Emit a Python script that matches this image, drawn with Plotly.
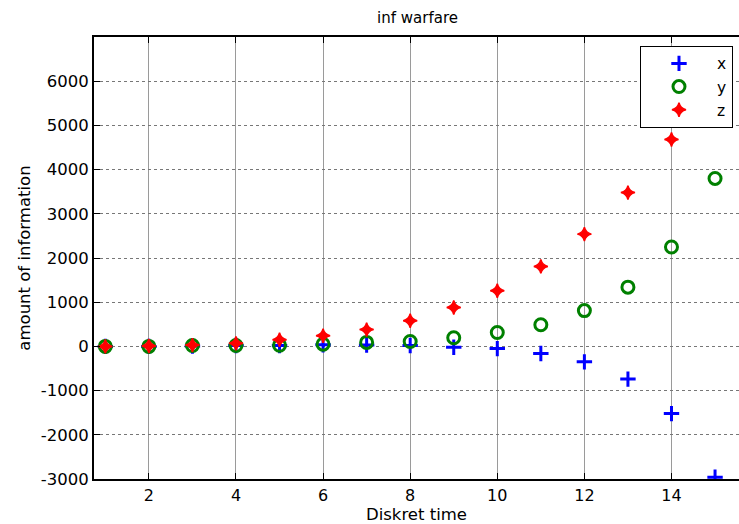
import plotly.graph_objects as go

t = list(range(1, 16))
x_vals = [0, 0, 10, 20, 20, 35, 30, 20, -20, -50, -160, -350, -740, -1520, -2960]
y_vals = [0, 0, 20, 20, 25, 50, 90, 110, 195, 315, 490, 810, 1340, 2250, 3800]
z_vals = [0, 10, 30, 70, 150, 240, 380, 580, 880, 1260, 1810, 2540, 3480, 4680, 6300]

x_ticks = [2, 4, 6, 8, 10, 12, 14]
y_ticks = [-3000, -2000, -1000, 0, 1000, 2000, 3000, 4000, 5000, 6000]
y_tick_labels = ["-3000", "-2000", "-1000", "0", "1000", "2000", "3000", "4000", "5000", "6000"]

FONT = "DejaVu Sans"

fig = go.Figure()
fig.add_trace(go.Scatter(x=t, y=x_vals, mode="markers", name="x",
                         marker=dict(symbol="cross-thin-open", size=11, color="#0000ff",
                                     line=dict(width=3, color="#0000ff"))))
fig.add_trace(go.Scatter(x=t, y=y_vals, mode="markers", name="y",
                         marker=dict(symbol="circle-open", size=12, color="#008000",
                                     line=dict(width=3, color="#008000"))))
fig.add_trace(go.Scatter(x=t, y=z_vals, mode="markers", name="z",
                         marker=dict(symbol="star-diamond", size=10, color="#ff0000",
                                     line=dict(width=1.5, color="#ff0000"))))

fig.update_layout(
    width=739, height=524,
    margin=dict(l=94, r=0, t=37, b=45, autoexpand=False),
    paper_bgcolor="white", plot_bgcolor="white",
    font=dict(family=FONT, size=16, color="black"),
    title=dict(text="inf warfare", x=0.565, xanchor="center", y=0.967, yanchor="middle",
               font=dict(family=FONT, size=15, color="black")),
    showlegend=True,
    legend=dict(x=0.8465, y=0.98, xanchor="left", yanchor="top",
                bgcolor="white", bordercolor="black", borderwidth=1,
                font=dict(family=FONT, size=15.5), itemwidth=66,
                tracegroupgap=0),
    xaxis=dict(range=[0.74, 15.55], tickvals=x_ticks,
               showgrid=True, gridcolor="#9a9a9a", gridwidth=1,
               showline=True, linecolor="black", linewidth=2, mirror="ticks",
               ticks="inside", ticklen=6, tickcolor="black", ticklabelstandoff=1,
               zeroline=False, automargin=False, tickfont=dict(size=16),
               title=dict(text="Diskret time", standoff=8, font=dict(size=16.5))),
    yaxis=dict(range=[-3000, 7000], tickvals=y_ticks, ticktext=y_tick_labels,
               showgrid=True, gridcolor="#777777", griddash="dot", gridwidth=1,
               showline=True, linecolor="black", linewidth=2, mirror=False,
               ticks="inside", ticklen=6, tickcolor="black", ticklabelstandoff=0,
               zeroline=False, automargin=False, tickfont=dict(size=16.5),
               title=dict(text="amount of information", standoff=6, font=dict(size=16.5))),
)

fig.write_html("out.html", config={"displayModeBar": False},
               post_script="document.body.style.margin='0';")
